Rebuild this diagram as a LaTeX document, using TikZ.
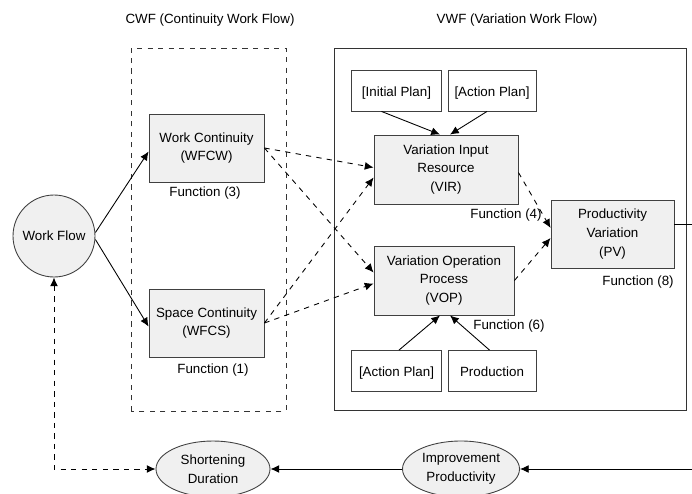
\documentclass[tikz,border=0pt]{standalone}
\usepackage{fontspec}
\setmainfont{Liberation Sans}
\usetikzlibrary{positioning, shapes.geometric, arrows.meta}

\tikzset{
  fnbox/.style={draw=black!75, fill=black!6, minimum width=2.3cm, minimum height=1.36cm, align=center, inner sep=1pt},
  inbox/.style={draw=black!75, fill=white, minimum width=1.8cm, minimum height=0.82cm, inner sep=1pt, text height=1.6ex, text depth=0.4ex},
  oval/.style={draw=black!75, fill=black!6, ellipse, minimum width=2.28cm, minimum height=1.12cm, align=center, inner sep=0pt},
  fnlabel/.style={inner sep=1pt},
}

\begin{document}
\begin{tikzpicture}[>={Latex[length=5pt,width=4.5pt]}, font=\fontsize{7.6}{10.6}\selectfont, line width=0.5pt]
  \useasboundingbox (0,0) rectangle (13.84,9.86);
  % workflow groups
  \draw[dashed, black!80] (2.62,1.64) rectangle (5.72,8.9);
  \draw[black!80] (6.68,1.66) rectangle (13.72,8.9);
  \node (cwftitle) at (4.2,9.46) {CWF (Continuity Work Flow)};
  \node (vwftitle) at (10.34,9.46) {VWF (Variation Work Flow)};
  % nodes
  \node[draw=black!75, fill=black!6, circle, minimum size=1.64cm, inner sep=0pt] (wf) at (1.08,5.14) {Work Flow};
  \node[fnbox] (wfcw) at (4.13,6.9) {Work Continuity\\(WFCW)};
  \node[fnbox] (wfcs) at (4.13,3.4) {Space Continuity\\(WFCS)};
  \node[inbox] (iplan) at (7.93,8.05) {[Initial Plan]};
  \node[inbox, minimum width=1.76cm] (aplantop) at (9.84,8.05) {[Action Plan]};
  \node[fnbox, minimum width=2.88cm, minimum height=1.38cm] (vir) at (8.92,6.47) {Variation Input\\Resource\\(VIR)};
  \node[fnbox, minimum width=2.8cm, minimum height=1.38cm] (vop) at (8.88,4.25) {Variation Operation\\Process\\(VOP)};
  \node[fnbox, minimum width=2.46cm] (pv) at (12.25,5.18) {Productivity\\Variation\\(PV)};
  \node[inbox] (aplanbot) at (7.93,2.44) {[Action Plan]};
  \node[inbox, minimum width=1.76cm] (prod) at (9.84,2.44) {Production};
  \node[oval] (short) at (4.26,0.48) {Shortening\\Duration};
  \node[oval, minimum width=2.34cm] (improve) at (9.22,0.48) {Improvement\\Productivity};
  % function labels
  \node[fnlabel] (f3) at (4.1,6.0) {Function (3)};
  \node[fnlabel] (f1) at (4.26,2.46) {Function (1)};
  \node[fnlabel] (f4) at (10.12,5.56) {Function (4)};
  \node[fnlabel] (f6) at (10.18,3.34) {Function (6)};
  \node[fnlabel] (f8) at (12.76,4.22) {Function (8)};
  % edge coordinates
  \coordinate (pvout) at (13.84,5.38);
  \coordinate (loopin) at (13.84,0.48);
  % solid arrows
  \draw[->] ([yshift=2pt]wf.east) -- ([yshift=-2pt]wfcw.west);
  \draw[->] ([yshift=-2pt]wf.east) -- ([yshift=-2pt]wfcs.west);
  \draw[->] ([xshift=-0.3cm]iplan.south) -- ([xshift=-0.12cm]vir.north);
  \draw[->] ([xshift=-0.1cm]aplantop.south) -- ([xshift=0.08cm]vir.north);
  \draw[->] ([xshift=0.05cm]aplanbot.north) -- ([xshift=-0.08cm]vop.south);
  \draw[->] ([xshift=-0.05cm]prod.north) -- ([xshift=0.12cm]vop.south);
  % dashed arrows
  \draw[->, dashed] (wfcw.east) -- ([yshift=0.04cm]vir.west);
  \draw[->, dashed] (wfcw.east) -- ([yshift=0.16cm]vop.west);
  \draw[->, dashed] (wfcs.east) -- ([yshift=-0.16cm]vir.west);
  \draw[->, dashed] (wfcs.east) -- ([yshift=-0.06cm]vop.west);
  \draw[->, dashed] ([yshift=-0.06cm]vir.east) -- ([yshift=0.12cm]pv.west);
  \draw[->, dashed] (vop.east) -- ([yshift=-0.08cm]pv.west);
  % feedback loop
  \draw (pv.east |- pvout) -- (pvout);
  \draw[->] (loopin) -- (improve.east);
  \draw[->] (improve.west) -- (short.east);
  \draw[<->, dashed] (wf.south) |- (short.west);
\end{tikzpicture}
\end{document}
